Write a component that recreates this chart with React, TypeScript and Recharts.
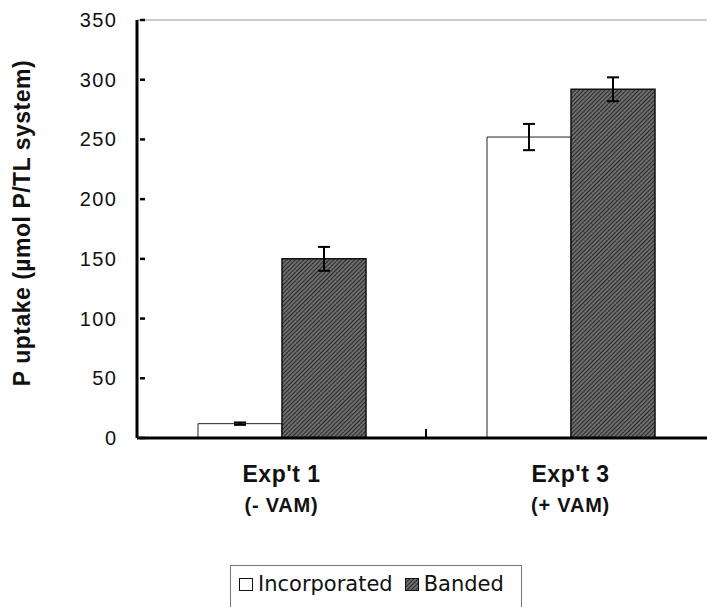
import { BarChart, Bar, XAxis, YAxis, ErrorBar, ReferenceLine, Legend, Label } from 'recharts'

const experiments = ["Exp't 1", "Exp't 3"]
const treatments = ['(- VAM)', '(+ VAM)']
const incorporated = [12, 252]
const incorporatedErr = [1, 11]
const banded = [150, 292]
const bandedErr = [10, 10]
const yTicks = [0, 50, 100, 150, 200, 250, 300, 350]

const data = experiments.map((exp, i) => ({
  exp,
  vam: treatments[i],
  incorporated: incorporated[i],
  incorporatedErr: incorporatedErr[i],
  banded: banded[i],
  bandedErr: bandedErr[i],
}))

const FONT = '"DejaVu Sans", sans-serif'
const ARIAL = '"Liberation Sans", Arial, sans-serif'
const HALF_BAND = 144.5

function YTick({ x, y, payload }: any) {
  return (
    <g>
      <text x={x + 1.5} y={y} textAnchor="end" dominantBaseline="central" fontSize={20} letterSpacing={1.5} fontFamily={ARIAL} fill="#111">
        {payload.value}
      </text>
      <line x1={x + 24} x2={x + 29} y1={y} y2={y} stroke="#000" strokeWidth={2.5} />
    </g>
  )
}

function XTick({ x, y, payload, index }: any) {
  return (
    <g>
      <text x={x} y={y + 44} textAnchor="middle" fontSize={23} fontWeight="bold" letterSpacing={0.5} fontFamily={ARIAL} fill="#111">
        {payload.value}
      </text>
      <text x={x} y={y + 74} textAnchor="middle" fontSize={20} fontWeight="bold" letterSpacing={0.8} fontFamily={ARIAL} fill="#111">
        {data[index]?.vam}
      </text>
      {index === 0 && (
        <line x1={x + HALF_BAND} x2={x + HALF_BAND} y1={y - 9} y2={y} stroke="#000" strokeWidth={2} />
      )}
    </g>
  )
}

function YLabel({ viewBox }: any) {
  const cx = viewBox.x + 22
  const cy = viewBox.y + viewBox.height / 2 - 6
  return (
    <text
      x={cx}
      y={cy}
      transform={`rotate(-90, ${cx}, ${cy})`}
      textAnchor="middle"
      dominantBaseline="central"
      fontSize={23}
      fontWeight="bold"
      letterSpacing={0.5}
      fontFamily={ARIAL}
      fill="#111"
    >
      P uptake (µmol P/TL system)
    </text>
  )
}

function LegendBox() {
  const sq = { display: 'inline-block', width: 12, height: 11, border: '1.5px solid #111', marginRight: 5 }
  return (
    <div
      style={{
        border: '1px solid #777',
        borderBottom: 'none',
        height: 60,
        boxSizing: 'border-box',
        paddingLeft: 8,
        paddingTop: 6,
        fontFamily: FONT,
        fontSize: 21,
        color: '#111',
        display: 'flex',
        alignItems: 'baseline',
        whiteSpace: 'nowrap',
      }}
    >
      <span style={{ ...sq, background: '#fff' }} />
      <span style={{ marginRight: 12 }}>Incorporated</span>
      <span style={sq}>
        <svg width={12} height={11} style={{ display: 'block' }}>
          <rect width={12} height={11} fill="url(#banded)" />
        </svg>
      </span>
      <span>Banded</span>
    </div>
  )
}

export default function App() {
  return (
    <div style={{ position: 'fixed', left: 0, top: 0, width: 707, height: 607, overflow: 'hidden', background: '#fff' }}>
      <svg width={0} height={0} style={{ position: 'absolute' }}>
        <defs>
          <pattern id="banded" patternUnits="userSpaceOnUse" width={3} height={3} patternTransform="rotate(45)">
            <rect width={3} height={3} fill="#2a2a2a" />
            <line x1={1} y1={0} x2={1} y2={3} stroke="#b0b0b0" strokeWidth={1} />
          </pattern>
        </defs>
      </svg>
      <BarChart
        width={740}
        height={607}
        data={data}
        margin={{ top: 20, right: 25, bottom: 89, left: 0 }}
        barCategoryGap={61}
        barGap={0}
      >
        <XAxis
          dataKey="exp"
          height={80}
          axisLine={{ stroke: '#000', strokeWidth: 3 }}
          tickLine={false}
          tickSize={0}
          tickMargin={0}
          tick={<XTick />}
        />
        <YAxis
          width={137}
          domain={[0, 350]}
          ticks={yTicks}
          interval={0}
          axisLine={{ stroke: '#000', strokeWidth: 3 }}
          tickLine={false}
          tickSize={0}
          tickMargin={21}
          tick={<YTick />}
        >
          <Label content={<YLabel />} />
        </YAxis>
        <ReferenceLine y={350} stroke="#999" strokeWidth={1} />
        <Bar dataKey="incorporated" fill="#fff" stroke="#222" strokeWidth={1} isAnimationActive={false}>
          <ErrorBar dataKey="incorporatedErr" width={6} stroke="#000" strokeWidth={2} />
        </Bar>
        <Bar dataKey="banded" fill="url(#banded)" stroke="#111" strokeWidth={1.5} isAnimationActive={false}>
          <ErrorBar dataKey="bandedErr" width={6} stroke="#000" strokeWidth={2} />
        </Bar>
        <Legend
          layout="horizontal"
          verticalAlign="middle"
          align="center"
          width={292}
          wrapperStyle={{ left: 230, top: 565, width: 292 }}
          content={<LegendBox />}
        />
      </BarChart>
    </div>
  )
}
